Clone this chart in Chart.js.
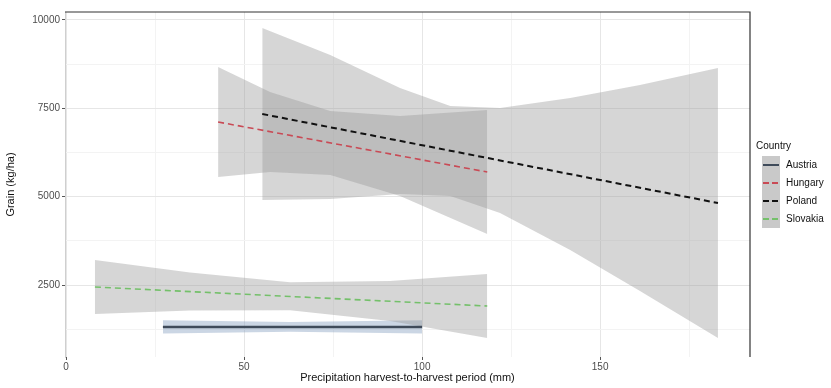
<!DOCTYPE html>
<html>
<head>
<meta charset="utf-8">
<script src="https://cdn.jsdelivr.net/npm/chart.js@4.4.1/dist/chart.umd.min.js"></script>
<style>
  html, body { margin: 0; padding: 0; background: #fff; }
  #wrap { width: 831px; height: 388px; }
</style>
</head>
<body>
<div id="wrap"><canvas id="smoothChart"></canvas></div>
<script>
// Axis ticks
const X_TICKS = [0, 50, 100, 150];
const X_MINOR = [25, 75, 125, 175];
const Y_TICKS = [2500, 5000, 7500, 10000];
const Y_MINOR = [1250, 3750, 6250, 8750];

const COUNTRIES = ['Austria', 'Hungary', 'Poland', 'Slovakia'];
const LINE_COLORS = ['#3f4b5a', '#c94a55', '#111111', '#74c06a'];

// Fitted lines (start / end)
const austriaX = [27.2, 100];
const austriaY = [1312, 1312];
const hungaryX = [42.7, 118.3];
const hungaryY = [7113, 5698];
const polandX = [55.1, 183.1];
const polandY = [7340, 4821];
const slovakiaX = [8.1, 118.3];
const slovakiaY = [2444, 1906];

// Confidence bands
const austriaBandX = [27.2, 63, 100];
const austriaUpper = [1500, 1450, 1500];
const austriaLower = [1130, 1175, 1130];

const hungaryBandX = [42.7, 57.3, 74.2, 93.8, 118.3];
const hungaryUpper = [8670, 7962, 7425, 7283, 7453];
const hungaryLower = [5557, 5698, 5613, 5019, 3944];

const polandBandX = [55.1, 74.2, 93.8, 107.9, 121.9, 141.6, 161.2, 183.1];
const polandUpper = [9774, 9010, 8076, 7566, 7510, 7793, 8161, 8642];
const polandLower = [4906, 4934, 5076, 5019, 4538, 3491, 2331, 1000];

const slovakiaBandX = [8.1, 34.8, 62.9, 91.0, 118.3];
const slovakiaUpper = [3208, 2851, 2577, 2614, 2812];
const slovakiaLower = [1680, 1776, 1784, 1482, 1000];

function pts(xs, ys) {
    return xs.map((x, i) => ({ x: x, y: ys[i] }));
}

function bandSets(xs, upper, lower, fillColor) {
    return [
        { data: pts(xs, lower), borderWidth: 0, pointRadius: 0, fill: false, showLine: true },
        { data: pts(xs, upper), borderWidth: 0, pointRadius: 0, fill: '-1', backgroundColor: fillColor, showLine: true }
    ];
}

function lineSet(xs, ys, color, dash, width) {
    return { data: pts(xs, ys), borderColor: color, borderDash: dash, borderWidth: width,
             pointRadius: 0, fill: false, showLine: true };
}

const bandFill = 'rgba(153, 153, 153, 0.4)';

const datasets = [
    ...bandSets(hungaryBandX, hungaryUpper, hungaryLower, bandFill),
    ...bandSets(polandBandX, polandUpper, polandLower, bandFill),
    ...bandSets(slovakiaBandX, slovakiaUpper, slovakiaLower, bandFill),
    ...bandSets(austriaBandX, austriaUpper, austriaLower, 'rgba(140, 165, 195, 0.45)'),
    lineSet(hungaryX, hungaryY, LINE_COLORS[1], [6, 4], 1.6),
    lineSet(polandX, polandY, LINE_COLORS[2], [6, 4], 2),
    lineSet(slovakiaX, slovakiaY, LINE_COLORS[3], [6, 4], 1.6),
    lineSet(austriaX, austriaY, LINE_COLORS[0], [], 2.5)
];

// Frame + legend drawn by hand
const framePlugin = {
    id: 'frame',
    afterDraw(chart) {
        const ctx = chart.ctx;
        const a = chart.chartArea;
        ctx.save();
        ctx.strokeStyle = '#333333';
        ctx.lineWidth = 1.2;
        ctx.beginPath();
        ctx.moveTo(a.left, a.top);
        ctx.lineTo(a.right, a.top);
        ctx.lineTo(a.right, a.bottom);
        ctx.stroke();

        // legend
        const lx = 762, ly = 156, key = 18;
        ctx.fillStyle = '#111';
        ctx.font = '10px "Liberation Sans", Arial, sans-serif';
        ctx.textBaseline = 'middle';
        ctx.fillText('Country', 756, 146);
        COUNTRIES.forEach((name, i) => {
            const y = ly + i * key;
            ctx.fillStyle = '#c9c9c9';
            ctx.fillRect(lx, y, key, key);
            ctx.strokeStyle = LINE_COLORS[i];
            ctx.lineWidth = 2;
            ctx.setLineDash(i === 0 ? [] : [6, 3]);
            ctx.beginPath();
            ctx.moveTo(lx + 1, y + key / 2);
            ctx.lineTo(lx + key - 1, y + key / 2);
            ctx.stroke();
            ctx.setLineDash([]);
            ctx.fillStyle = '#111';
            ctx.fillText(name, lx + key + 6, y + key / 2);
        });
        ctx.restore();
    }
};

const tickFont = { family: '"Liberation Sans", Arial, sans-serif', size: 10 };
const titleFont = { family: '"Liberation Sans", Arial, sans-serif', size: 11 };

new Chart(document.getElementById('smoothChart'), {
    type: 'scatter',
    data: { datasets: datasets },
    plugins: [framePlugin],
    options: {
        responsive: true,
        maintainAspectRatio: false,
        animation: false,
        layout: { padding: { top: 12, right: 81, left: 0, bottom: 0 } },
        plugins: {
            legend: { display: false },
            tooltip: { enabled: false },
            filler: { drawTime: 'beforeDatasetsDraw' }
        },
        scales: {
            x: {
                type: 'linear',
                min: -0.3,
                max: 192.1,
                afterFit: s => { s.height = 31; },
                afterBuildTicks: s => {
                    s.ticks = [...X_TICKS, ...X_MINOR].sort((a, b) => a - b).map(v => ({ value: v }));
                },
                ticks: {
                    font: tickFont,
                    color: '#4d4d4d',
                    padding: 1,
                    maxRotation: 0,
                    callback: v => X_TICKS.includes(v) ? String(v) : ''
                },
                grid: {
                    color: c => X_TICKS.includes(c.tick && c.tick.value) ? '#e6e6e6' : '#f3f3f3',
                    tickColor: c => X_TICKS.includes(c.tick && c.tick.value) ? '#555' : 'rgba(0,0,0,0)',
                    tickLength: 3
                },
                border: { display: false },
                title: {
                    display: true,
                    text: 'Precipitation harvest-to-harvest period (mm)',
                    font: titleFont,
                    color: '#111',
                    padding: { top: 0, bottom: 3 }
                }
            },
            y: {
                type: 'linear',
                min: 463,
                max: 10226,
                afterFit: s => { s.width = 65; },
                afterBuildTicks: s => {
                    s.ticks = [...Y_TICKS, ...Y_MINOR].sort((a, b) => a - b).map(v => ({ value: v }));
                },
                ticks: {
                    font: tickFont,
                    color: '#4d4d4d',
                    padding: 2,
                    callback: v => Y_TICKS.includes(v) ? String(v) : ''
                },
                grid: {
                    color: c => Y_TICKS.includes(c.tick && c.tick.value) ? '#e6e6e6' : '#f3f3f3',
                    tickColor: c => Y_TICKS.includes(c.tick && c.tick.value) ? '#555' : 'rgba(0,0,0,0)',
                    tickLength: 3
                },
                border: { display: true, color: '#cfcfcf' },
                title: {
                    display: true,
                    text: 'Grain (kg/ha)',
                    font: titleFont,
                    color: '#111',
                    padding: { top: 4, bottom: 2 }
                }
            }
        }
    }
});
</script>
</body>
</html>
